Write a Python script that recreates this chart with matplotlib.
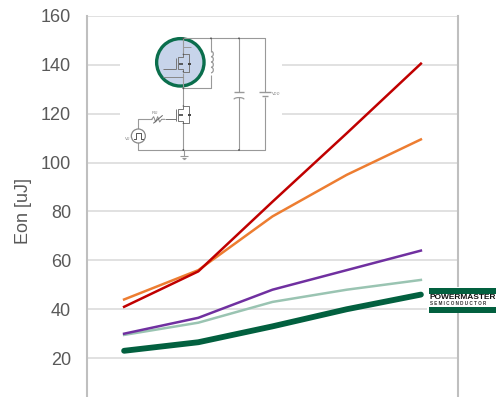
import matplotlib
matplotlib.use("Agg")
import matplotlib.pyplot as plt
from matplotlib.patches import Circle, Rectangle, Arc

categories = [1, 2, 3, 4, 5]
red = [41, 55.5, 84, 112, 140.5]
orange = [44, 56, 78, 95, 109.5]
purple = [30, 36.5, 48, 56, 64]
teal = [29.5, 34.5, 43, 48, 52]
green = [23, 26.5, 33, 40, 46]
yticks = [20, 40, 60, 80, 100, 120, 140, 160]

W, H = 496, 397
plt.rcParams['font.family'] = ['Liberation Sans', 'DejaVu Sans']
fig = plt.figure(figsize=(W / 100, H / 100), dpi=100)
# axis runs below the figure edge: y=0 sits at pixel 407
L, R, T, B = 87, 458, 16, 407
ax = fig.add_axes([L / W, 1 - B / H, (R - L) / W, (B - T) / H])
ax.set_xlim(0.5, 5.5)
ax.set_ylim(0, 160)
ax.set_xticks([])
ax.set_yticks(yticks)
ax.tick_params(axis='y', length=0, labelsize=13, labelcolor='#595959', pad=11.5)
ax.grid(axis='y', color='#dcdcdc', lw=1.2, zorder=0)
for s in ['top', 'bottom']:
    ax.spines[s].set_visible(False)
for s in ['left', 'right']:
    ax.spines[s].set_color('#bfbfbf')
    ax.spines[s].set_linewidth(1.5)
ax.set_ylabel('Eon [uJ]', fontsize=13, color='#595959', labelpad=6)

ax.plot(categories, orange, color='#ed7d31', lw=1.8, zorder=3)
ax.plot(categories, red, color='#c00000', lw=1.8, zorder=3)
ax.plot(categories, teal, color='#9ac4b2', lw=1.8, zorder=3)
ax.plot(categories, purple, color='#7030a0', lw=1.8, zorder=3)
ax.plot(categories, green, color='#02603f', lw=4.2, zorder=3, solid_capstyle='round')

# overlay in pixel coordinates for the circuit inset and logo
ov = fig.add_axes([0, 0, 1, 1], facecolor='none')
ov.set_xlim(0, W)
ov.set_ylim(H, 0)
ov.axis('off')
ov.add_patch(Rectangle((120, 30), 162, 131, fc='white', ec='none', zorder=1))

GR = '#999999'
def zx(x): return 100 + x / 3
def zy(y): return 20 + y / 3
def wire(xs, ys, c=GR, lw=0.8, z=3):
    ov.plot([zx(x) for x in xs], [zy(y) for y in ys], color=c, lw=lw, zorder=z, solid_capstyle='butt')
def dot(x, y, r=0.9, c='#555555'):
    ov.add_patch(Circle((zx(x), zy(y)), r, fc=c, ec='none', zorder=4))

ov.add_patch(Circle((zx(241), zy(127)), 23.7, fc='#c7d4ea', ec='#0a6e4c', lw=2.4, zorder=2))

# main wiring
wire([250, 495, 495], [55, 55, 215])
wire([495, 495, 115, 115], [232, 390, 390, 366])
wire([115, 115, 155], [330, 298, 298])
wire([250, 250], [55, 103])
wire([250, 250], [158, 258])
wire([250, 250], [310, 390])
wire([333, 333], [55, 95])
wire([333, 333, 250], [165, 205, 205])
wire([417, 417], [55, 215])
wire([417, 417], [232, 390])
wire([478, 512], [217, 217], lw=1.0)
wire([487, 503], [229, 229], lw=1.0)
wire([402, 432], [215, 215], lw=1.0)
ov.add_patch(Arc((zx(417), zy(238)), 10, 3.5, theta1=180, theta2=360, color=GR, lw=0.9, zorder=4))
# inductor
for cy in (102, 118, 134, 150):
    ov.add_patch(Arc((zx(333), zy(cy)), 4.6, 5.6, theta1=-90, theta2=90, color=GR, lw=0.9, zorder=3))
# MOSFETs
for oy in (0, 155):
    wire([250, 250, 234, 234, 250, 250], [103 + oy, 112 + oy, 112 + oy, 147 + oy, 147 + oy, 155 + oy], c='#777777', lw=0.7)
    wire([229, 229], [113 + oy, 147 + oy], c='#777777', lw=0.7)
    wire([250, 268, 268, 250], [103 + oy, 103 + oy, 155 + oy, 155 + oy], c='#777777', lw=0.7)
    wire([263, 273], [131 + oy, 131 + oy], c='#444444', lw=1.4)
    wire([236, 248], [131 + oy, 131 + oy], c='#444444', lw=1.2)
    dot(250, 103 + oy, 0.7)
    dot(250, 155 + oy, 0.7)
wire([190, 229], [148, 148], c='#777777', lw=0.7)
wire([195, 229], [298, 298], c='#777777', lw=0.7)
wire([190, 250], [170, 170], c='#888888', lw=0.7)
wire([250, 272], [82, 82], c='#999999', lw=0.7)
# gate resistor
wire([155, 161, 167, 173, 179, 185, 195], [298, 290, 306, 290, 306, 298, 298], c='#888888', lw=0.7)
wire([160, 188], [310, 286], c='#666666', lw=0.7)
ov.add_patch(Circle((zx(115), zy(348)), 7, fc='white', ec='#888888', lw=0.9, zorder=4))
ov.plot([zx(x) for x in (101, 108, 108, 122, 122, 129)],
        [zy(y) for y in (356, 356, 339, 339, 356, 356)], color='#555555', lw=0.7, zorder=5)
# ground
wire([252, 252], [390, 408])
wire([240, 264], [408, 408])
wire([245, 259], [413, 413])
wire([249, 255], [418, 418])
for x, y in [(250, 55), (333, 55), (417, 55), (250, 390), (417, 390), (250, 205)]:
    dot(x, y)
for x, y, s in [(527, 224, 'V$_{DD}$'), (82, 359, 'V$_G$'), (165, 281, 'R$_G$')]:
    ov.text(zx(x), zy(y), s, fontsize=3.2, color='#777777', ha='center', va='center', zorder=5)

# logo
ov.add_patch(Rectangle((427, 287), 69, 26, fc='white', ec='none', zorder=6))
ov.add_patch(Rectangle((429, 288), 67, 5.5, fc='#02603f', ec='none', zorder=7))
ov.add_patch(Rectangle((429, 307), 67, 5.5, fc='#02603f', ec='none', zorder=7))
ov.text(429.5, 297.7, 'POWERMASTER', fontsize=6.0, fontweight='bold', color='#111111',
        ha='left', va='center', zorder=8, clip_on=True)
ov.text(430, 303.8, 'S E M I C O N D U C T O R', fontsize=3.3, fontweight='bold', color='#333333',
        ha='left', va='center', zorder=8, clip_on=True)

fig.savefig('out.png', dpi=100)
